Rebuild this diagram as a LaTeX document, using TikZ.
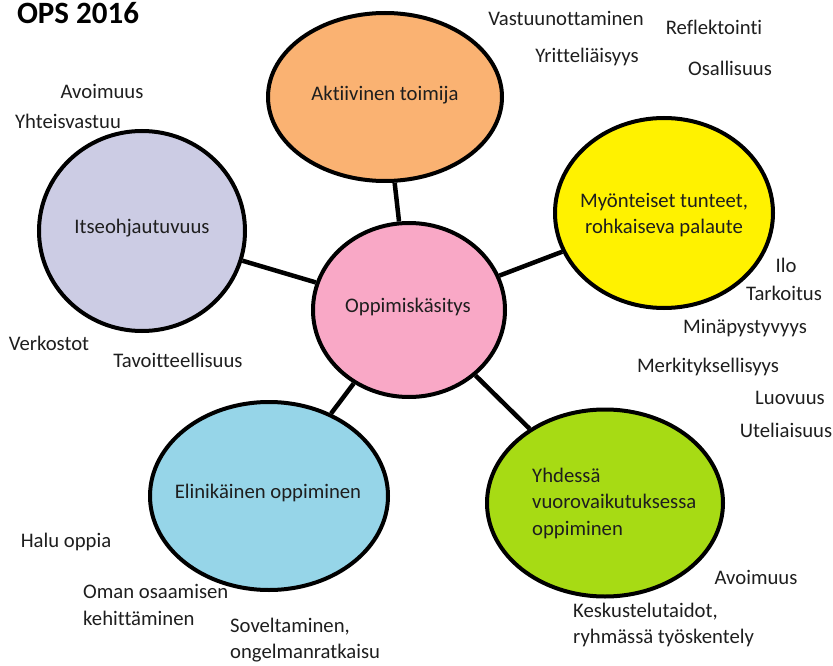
\documentclass[tikz,border=0pt]{standalone}
\usepackage{fontspec}
\setmainfont{Carlito}[RawFeature={-liga;-clig}]
\usetikzlibrary{shapes.geometric}
\definecolor{corange}{RGB}{250,178,114}
\definecolor{clav}{RGB}{204,204,228}
\definecolor{cyellow}{RGB}{255,242,0}
\definecolor{cpink}{RGB}{249,168,198}
\definecolor{cblue}{RGB}{150,213,232}
\definecolor{cgreen}{RGB}{167,219,20}
\definecolor{ctext}{RGB}{30,30,30}
\begin{document}
\begin{tikzpicture}[x=1pt,y=-1pt,
  bub/.style={ellipse,draw=black,line width=4pt,inner sep=0pt,font=\fontsize{20.7}{28}\selectfont,text=ctext},
  lab/.style={inner sep=0pt,font=\fontsize{20.7}{26.5}\selectfont,text=ctext},
  conn/.style={line width=4.5pt}]
\useasboundingbox (0,0) rectangle (833,666);
% bubbles
\node[bub,fill=corange,minimum width=234pt,minimum height=168pt] (akt) at (385,97) {};
\node[bub,fill=clav,minimum width=206pt,minimum height=200pt] (itse) at (142,231) {};
\node[bub,fill=cyellow,minimum width=218pt,minimum height=190pt] (myo) at (664,213) {};
\node[bub,fill=cpink,minimum width=192pt,minimum height=174pt] (opp) at (409,310) {};
\node[bub,fill=cblue,minimum width=238pt,minimum height=188pt] (eli) at (269,496) {};
\node[bub,fill=cgreen,minimum width=236pt,minimum height=187pt] (yhd) at (605,503) {};
% connectors
\draw[conn] (opp) -- (akt);
\draw[conn] (opp) -- (itse);
\draw[conn] (opp) -- (myo);
\draw[conn] (opp) -- (eli);
\draw[conn] (opp) -- (yhd);
% bubble texts
\node[lab] (takt) at (385,95) {Aktiivinen toimija};
\node[lab] (titse) at (142,228) {Itseohjautuvuus};
\node[lab,align=center] (tmyo) at (664,215) {Myönteiset tunteet,\\rohkaiseva palaute};
\node[lab] (topp) at (408,307) {Oppimiskäsitys};
\node[lab] (teli) at (268,493) {Elinikäinen oppiminen};
\node[lab,align=left,anchor=west] (tyhd) at (532,503) {Yhdessä\\vuorovaikutuksessa\\oppiminen};
% title
\node[lab,anchor=base,font=\bfseries\fontsize{31}{34}\selectfont,text=black] (title) at (78,24) {OPS 2016};
% free labels
\node[lab] (l1) at (102,91) {Avoimuus};
\node[lab] (l2) at (68,121) {Yhteisvastuu};
\node[lab] (l3) at (566,18) {Vastuunottaminen};
\node[lab] (l4) at (714,27) {Reflektointi};
\node[lab] (l5) at (587,57) {Yritteliäisyys};
\node[lab] (l6) at (730,68) {Osallisuus};
\node[lab] (l7) at (786,265) {Ilo};
\node[lab] (l8) at (784,293) {Tarkoitus};
\node[lab] (l9) at (745,328) {Minäpystyvyys};
\node[lab] (l10) at (708,367) {Merkityksellisyys};
\node[lab] (l11) at (790,398) {Luovuus};
\node[lab] (l12) at (786,430) {Uteliaisuus};
\node[lab] (l13) at (49,343) {Verkostot};
\node[lab] (l14) at (178,360) {Tavoitteellisuus};
\node[lab] (l15) at (66,542) {Halu oppia};
\node[lab,align=left,anchor=west] (l16) at (83,605) {Oman osaamisen\\kehittäminen};
\node[lab,align=left,anchor=west] (l17) at (230,640) {Soveltaminen,\\ongelmanratkaisu};
\node[lab] (l18) at (756,577) {Avoimuus};
\node[lab,align=left,anchor=west] (l19) at (573,625) {Keskustelutaidot,\\ryhmässä työskentely};
\end{tikzpicture}
\end{document}
